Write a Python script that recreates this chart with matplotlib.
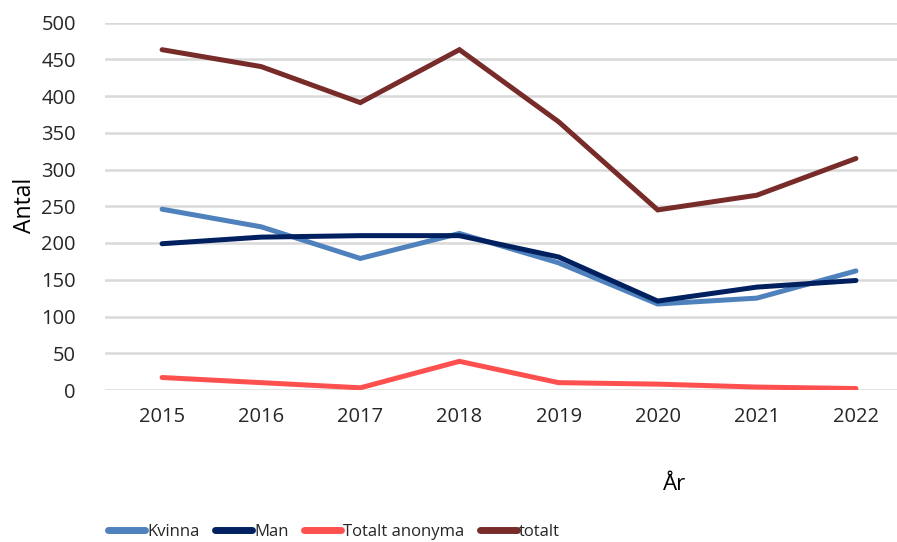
import numpy as np
import matplotlib.pyplot as plt

# Data
years = ['2015', '2016', '2017', '2018', '2019', '2020', '2021', '2022']
kvinna = [246, 222, 179, 213, 173, 117, 125, 162]
man = [199, 208, 210, 210, 181, 121, 140, 149]
anonyma = [17, 10, 3, 39, 10, 8, 4, 2]
totalt = [463, 440, 391, 463, 365, 245, 265, 315]

series = [
    ('Kvinna', kvinna, '#4F81BD'),
    ('Man', man, '#002060'),
    ('Totalt anonyma', anonyma, '#FF5050'),
    ('totalt', totalt, '#772C2A'),
]

plt.rcParams['font.family'] = ['Open Sans', 'DejaVu Sans']

W, H = 897, 542
fig = plt.figure(figsize=(W / 100, H / 100), dpi=100)
ax = fig.add_axes([105 / W, 1 - 390 / H, (W - 105) / W, (390 - 22.5) / H])

x = np.arange(len(years))
for namn, vals, farg in series:
    ax.plot(x, vals, color=farg, linewidth=3.6, solid_capstyle='round',
            solid_joinstyle='miter', label=namn)

ax.set_ylim(0, 500)
ax.set_yticks(np.arange(0, 501, 50))
ax.set_xlim(-(162 - 105) / 99, 7 + (W - 856) / 99)
ax.set_xticks(x)
ax.set_xticklabels(years)
ax.grid(axis='y', color='#D9D9D9', linewidth=1.8)
ax.set_axisbelow(True)
for s in ax.spines.values():
    s.set_visible(False)
ax.tick_params(length=0, labelsize=14.5, colors='#262626')
ax.tick_params(axis='x', pad=12)
ax.tick_params(axis='y', pad=21)

fig.text(25 / W, 1 - 205 / H, 'Antal', rotation=90, ha='center', va='center',
         fontsize=16.5, color='black')
fig.text(675 / W, 1 - 484 / H, 'År', ha='center', va='center',
         fontsize=16, color='black')

leg = fig.legend(loc='center', bbox_to_anchor=(334 / W, 1 - 532 / H),
                 ncol=4, frameon=False, fontsize=12,
                 handlelength=2.2, handletextpad=0.12, columnspacing=0.95)
for t in leg.get_texts():
    t.set_color('#262626')
for h in leg.get_lines():
    h.set_linewidth(5)

fig.savefig('out.png', dpi=100)
